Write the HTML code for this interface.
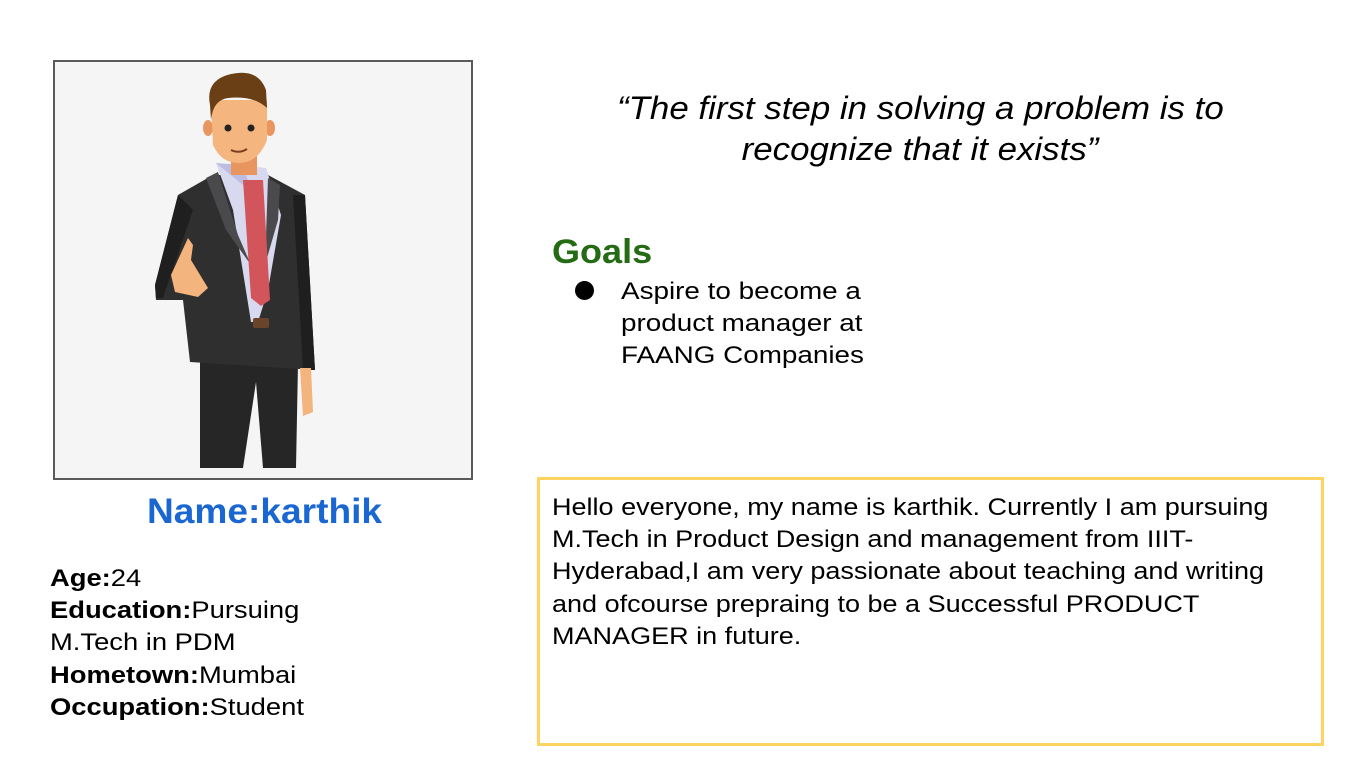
<!DOCTYPE html>
<html><head><meta charset="utf-8"><style>
body{margin:0;width:1359px;height:762px;background:#fff;position:relative;overflow:hidden;font-family:"Liberation Sans",sans-serif;color:#000}
.a{position:absolute;white-space:nowrap}
.s{transform-origin:0 0}
</style></head><body>
<div class="a" style="left:53px;top:60px;width:416px;height:416px;border:2px solid #5a5a5a;background:#f5f5f5">
<svg width="416" height="416" viewBox="2 2 416 416">
<polygon points="147,300 245,303 243,408 210,408 203,322 190,408 147,408" fill="#262626"/>
<polygon points="125,135 160,115 215,115 252,135 262,310 137,302 130,240 103,240 102,225" fill="#2f2f30"/>
<polygon points="125,135 140,150 110,238 103,238 102,225" fill="#1f1f20"/>
<polygon points="240,135 252,135 262,310 250,310" fill="#1f1f20"/>
<polygon points="163,103 213,108 228,155 215,230 205,262 198,262 180,150" fill="#d8d8ee"/>
<polygon points="153,118 165,112 185,175 198,205 173,170" fill="#4a4a4c"/>
<polygon points="215,118 227,125 225,160 212,205" fill="#4a4a4c"/>
<polygon points="163,103 190,125 195,120 188,105" fill="#bdbde2"/>
<polygon points="190,120 210,120 217,240 208,246 198,238" fill="#d2555c"/>
<rect x="200" y="258" width="16" height="10" fill="#6a4428" rx="2"/>
<polygon points="118,215 135,178 140,185 138,200 155,228 145,237 122,232" fill="#f3b47d"/>
<polygon points="247,308 258,308 260,352 250,356" fill="#f3b47d"/>
<rect x="178" y="95" width="26" height="20" fill="#e9955f"/>
<ellipse cx="155" cy="68" rx="5" ry="8" fill="#e9955f"/>
<ellipse cx="217" cy="68" rx="5" ry="8" fill="#e9955f"/>
<path d="M158 40 L214 40 L214 80 Q205 103 186 103 Q168 103 160 85 Z" fill="#f5b57e"/>
<path d="M157 45 Q152 20 178 14 Q205 8 213 30 L214 48 Q200 35 175 38 Q160 40 158 60 Z" fill="#6b3f16"/>
<circle cx="175" cy="68" r="3.5" fill="#222"/><circle cx="198" cy="68" r="3.5" fill="#222"/>
<path d="M178 90 Q186 94 194 89" stroke="#7a3f1f" stroke-width="2" fill="none"/>
</svg></div>
<div class="a s" style="left:617px;top:88px;width:556px;text-align:center;font-style:italic;font-size:32px;line-height:41px;transform:scaleX(1.09)">“The first step in solving a problem is to<br>recognize that it exists”</div>
<div class="a s" style="left:552px;top:233px;font-size:34px;font-weight:bold;color:#246b14;transform:scaleX(1.06)">Goals</div>
<div class="a" style="left:575px;top:281px;width:19px;height:19px;border-radius:50%;background:#000"></div>
<div class="a s" style="left:621px;top:276px;font-size:24px;line-height:32px;transform:scaleX(1.16)">Aspire to become a<br>product manager at<br>FAANG Companies</div>
<div class="a s" style="left:147px;top:492px;font-size:35px;font-weight:bold;color:#1a67d2;transform:scaleX(1.06)">Name:karthik</div>
<div class="a s" style="left:50px;top:563px;font-size:24px;line-height:32.2px;transform:scaleX(1.14)"><b>Age:</b>24<br><b>Education:</b>Pursuing<br>M.Tech in PDM<br><b>Hometown:</b>Mumbai<br><b>Occupation:</b>Student</div>
<div class="a" style="left:537px;top:477px;width:781px;height:263px;border:3px solid #fcd45f"></div>
<div class="a s" style="left:552px;top:492px;font-size:24px;line-height:32.2px;transform:scaleX(1.126)">Hello everyone, my name is karthik. Currently I am pursuing<br>M.Tech in Product Design and management from IIIT-<br>Hyderabad,I am very passionate about teaching and writing<br>and ofcourse prepraing to be a Successful PRODUCT<br>MANAGER in future.</div>
</body></html>
